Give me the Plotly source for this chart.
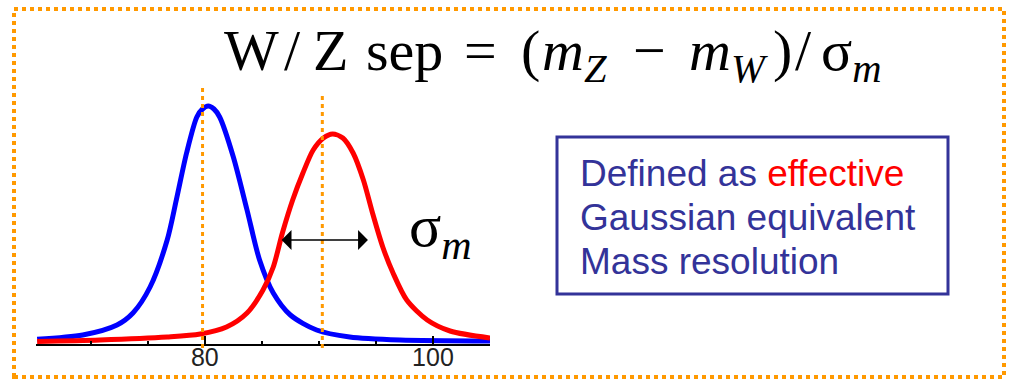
import plotly.graph_objects as go

# ---- data (y = arbitrary units, ~px above baseline) ----
w_mass = [65.3, 69.3, 72.3, 73.7, 75.2, 76.7, 77.5, 78.4, 79.3, 79.8, 80.3, 80.8, 81.3, 82.5,
          83.7, 84.8, 86.0, 87.5, 89.8, 92.7, 97.1, 105.0]
w_counts = [2.7, 7, 17, 29, 55, 102, 142, 189, 225, 233, 236, 233, 225, 185,
            132, 82, 49, 27, 12, 5, 2, 1]

z_mass = [65.3, 70.8, 76.7, 79.6, 81.9, 83.7, 85.1, 86.0, 86.8, 87.7, 88.6, 89.5, 90.4,
          91.2, 92.1, 93.0, 93.9, 94.7, 95.6, 96.5, 97.7, 99.5, 101.5, 105.0]
z_counts = [0.5, 2, 5, 8, 15, 29, 52, 75, 109, 142, 169, 192, 204,
            208, 204, 189, 162, 129, 95, 69, 42, 22, 11, 4]

ref_lines = [79.8, 90.3]          # dotted reference masses (W, Z)
sigma_arrow = [86.6, 94.3]        # ends of the sigma_m arrow
sigma_arrow_level = 102
tick_vals = [80, 100]
tick_text = ["80", "100"]
title_parts = ["W", "/", "Z", "sep", "=", "(", "<i>m</i><sub><i>Z</i></sub>", "−",
               "<i>m</i><sub><i>W</i></sub>", ")", "/", "σ<sub><i>m</i></sub>"]
title_part_x = [223, 283, 312, 365, 463, 520, 541, 632, 688, 772, 794, 820]
box_lines = ['Defined as <span style="color:#ff0000">effective</span>',
             'Gaussian equivalent',
             'Mass resolution']

W, H = 1012, 379
def px(x):
    return x / W
def py(y):
    return (H - y) / H

fig = go.Figure()
fig.add_trace(go.Scatter(x=w_mass, y=w_counts, mode="lines",
                         line=dict(color="#0000ff", width=5, shape="spline", smoothing=0.8),
                         showlegend=False))
fig.add_trace(go.Scatter(x=z_mass, y=z_counts, mode="lines",
                         line=dict(color="#ff0000", width=5, shape="spline", smoothing=0.8),
                         showlegend=False))

shapes = []
# outer dotted frame
shapes.append(dict(type="rect", xref="paper", yref="paper",
                   x0=px(14), x1=px(1004), y0=py(377), y1=py(9),
                   line=dict(color="#ff9900", width=4, dash="dot")))
# reference dotted lines
for xv, top in zip(ref_lines, [84, 92]):
    shapes.append(dict(type="line", xref="x", yref="paper", x0=xv, x1=xv,
                       y0=py(348), y1=py(top),
                       line=dict(color="#ff9900", width=3, dash="4px,4px")))
# text box
shapes.append(dict(type="rect", xref="paper", yref="paper",
                   x0=px(557), x1=px(948), y0=py(294), y1=py(137),
                   line=dict(color="#333399", width=3)))

annotations = []
for t, xp in zip(title_parts, title_part_x):
    annotations.append(dict(
        xref="paper", yref="paper", x=px(xp), y=py(17), xanchor="left", yanchor="top",
        text=t, showarrow=False, borderpad=0,
        font=dict(family="Liberation Serif", size=58, color="#000000")))
annotations.append(dict(
    xref="paper", yref="paper", x=px(407), y=py(230), xanchor="left", yanchor="middle",
    text="σ<sub><i>m</i></sub>", showarrow=False,
    font=dict(family="Liberation Serif", size=60, color="#000000")))
annotations.append(dict(
    xref="x", yref="y", x=sigma_arrow[1], y=sigma_arrow_level,
    axref="x", ayref="y", ax=sigma_arrow[0], ay=sigma_arrow_level,
    showarrow=True, arrowhead=1, arrowside="end+start", arrowsize=2.2,
    arrowwidth=1.5, arrowcolor="#000000", text=""))
for i, t in enumerate(box_lines):
    annotations.append(dict(
        xref="paper", yref="paper", x=px(578), y=py(173 + 44 * i), xanchor="left",
        yanchor="middle", text=t, showarrow=False,
        font=dict(family="Liberation Sans", size=37, color="#333399")))

fig.update_layout(
    width=W, height=H, margin=dict(l=0, r=0, t=0, b=0),
    paper_bgcolor="white", plot_bgcolor="white",
    shapes=shapes, annotations=annotations,
    xaxis=dict(domain=[px(36), px(490)], range=[65.2, 105.0],
               showgrid=False, zeroline=False, showline=True, linecolor="#000000",
               linewidth=2, ticks="inside", ticklen=8, tickwidth=2, tickcolor="#000000",
               tickvals=tick_vals, ticktext=tick_text, ticklabelstandoff=-10,
               tickfont=dict(family="Liberation Sans", size=25, color="#222222"),
               minor=dict(dtick=5, tick0=0, ticks="inside", ticklen=3, tickwidth=2,
                          tickcolor="#000000", showgrid=False)),
    yaxis=dict(domain=[py(344), py(84)], range=[-2, 258], visible=False),
)

fig.write_html("out.html", config={"displayModeBar": False},
               post_script="document.body.style.margin='0px';")
